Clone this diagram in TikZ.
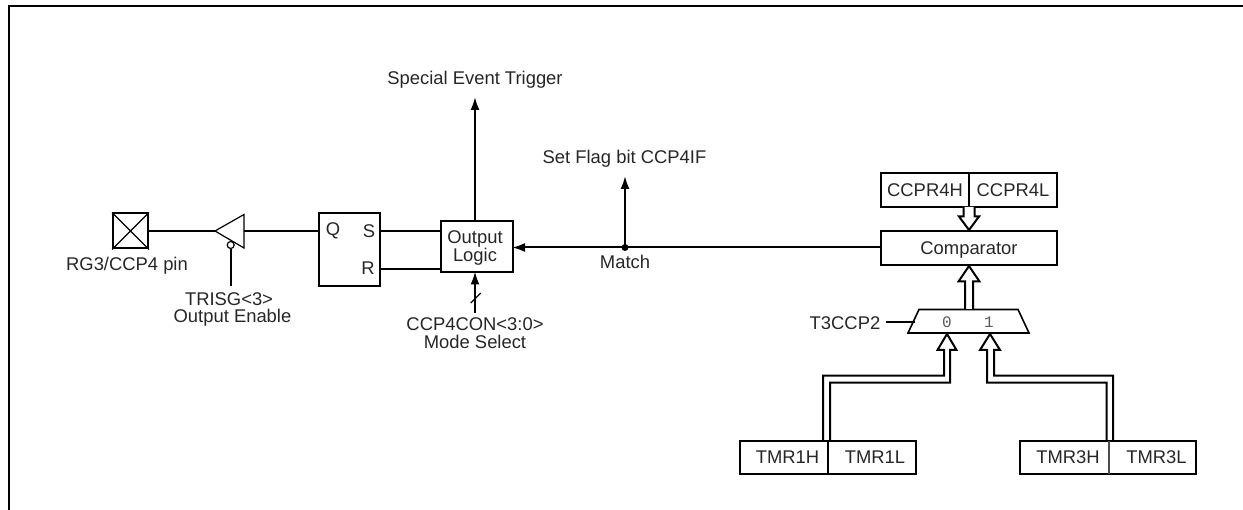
\documentclass[tikz,border=0pt]{standalone}
\usepackage{fontspec}
\setmainfont{Liberation Sans}
\setmonofont{Liberation Mono}
\usetikzlibrary{arrows.meta}
\tikzset{
  lbl/.style={inner sep=0pt,font=\fontsize{18.4}{18.4}\selectfont,align=center,text=black!85},
  muxl/.style={inner sep=0pt,font=\ttfamily\fontsize{16}{18}\selectfont,text=black!65},
  boxs/.style={draw,line width=2pt,inner sep=0pt},
  sig/.style={line width=2pt},
  sigar/.style={line width=2pt,shorten >=-2pt,-{Latex[length=13pt,width=9pt]}},
  hollow/.style={draw,line width=2pt,fill=white,line join=miter},
  hair/.style={line width=1.2pt},
}
\begin{document}
\begin{tikzpicture}[x=1pt,y=-1pt]
\useasboundingbox (0,0) rectangle (1243,510);
% frame
\draw[line width=2pt] (9,510) -- (9,6) -- (1243,6);
% pin
\node[boxs,minimum width=35pt,minimum height=35pt] (pin) at (130.5,231) {};
\draw[hair] (pin.north west) -- (pin.south east) (pin.north east) -- (pin.south west);
\node[lbl] (pinl) at (127,266) {RG3/CCP4 pin};
% buffer
\coordinate (buftip) at (215,231);
\coordinate (bufin) at (244,231);
\draw[hair,fill=white] (buftip) -- (244,214.5) -- (244,248) -- cycle;
\node[circle,draw,hair,fill=white,inner sep=0pt,minimum size=7pt] (bub) at (230.7,245) {};
\node[lbl] (tris) at (229,299) {TRISG<3>};
\node[lbl] (tris2) at (232.5,318) {Output Enable};
\coordinate (trisc) at (230.7,286);
\draw[sig] (bub) -- (trisc);
\draw[sig] (pin) -- (buftip);
% SR
\node[boxs,minimum width=61pt,minimum height=73pt] (sr) at (349.5,249.5) {};
\node[lbl] (q) at (333,231) {Q};
\node[lbl] (s) at (369,231) {S};
\node[lbl] (r) at (368,268) {R};
\draw[sig] (bufin) -- (sr.west |- bufin);
% Output logic
\node[boxs,minimum width=72pt,minimum height=51pt] (ol) at (477,247) {};
\node[lbl] (oltx) at (475,248) {Output\\Logic};
\draw[sig] (sr.east |- 0,231) -- (ol.west |- 0,231);
\draw[sig] (sr.east |- 0,269) -- (ol.west |- 0,269);
% Special event
\node[lbl] (set) at (475,80) {Special Event Trigger};
\coordinate (setc) at (475,99);
\draw[sigar] (ol.north -| setc) -- (setc);
% mode
\node[lbl] (mode) at (475,333) {CCP4CON<3:0>\\Mode Select};
\coordinate (modec) at (475,313);
\draw[sigar] (modec) -- (ol.south -| modec);
\draw[hair] (470.7,303) -- (480.7,293);
% Comparator
\node[boxs,minimum width=176pt,minimum height=34pt] (cmp) at (969,248) {};
\node[lbl] (cmpl) at (969,250) {Comparator};
\node[boxs,minimum width=176pt,minimum height=34pt] (ccp) at (969,190) {};
\node[lbl] (ccph) at (925,190) {CCPR4H};
\node[lbl] (ccpl) at (1013,190) {CCPR4L};
\draw[sig] (ccp.north) -- (ccp.south);
% match
\coordinate (mt) at (625,247.5);
\draw[sig] (cmp.west |- mt) -- (mt);
\draw[sigar] (mt) -- (ol.east |- mt);
\fill (mt) circle (3.5pt);
\node[lbl] (match) at (625,262) {Match};
\node[lbl] (flag) at (624.5,159) {Set Flag bit CCP4IF};
\coordinate (flagc) at (625,178);
\draw[sigar] (mt) -- (flagc);
% hollow ccpr->comp
\path[hollow] (963.5,207) -- (963.5,216.5) -- (959,216.5) -- (969,230) -- (979,216.5) -- (974.5,216.5) -- (974.5,207);
% mux
\node[lbl] (t3) at (845,323) {T3CCP2};
\draw[line width=1.6pt,fill=white] (919,309.5) -- (1018,309.5) -- (1029,333) -- (908,333) -- cycle;
\coordinate (muxsel) at (915,322);
\draw[sig] (886,322) -- (muxsel);
\node[muxl] (m0) at (947,322) {0};
\node[muxl] (m1) at (989,322) {1};
% mux -> comparator
\path[hollow] (965,309) -- (965,281.5) -- (958.5,281.5) -- (969,266) -- (979.5,281.5) -- (973,281.5) -- (973,309);
% timers
\node[boxs,minimum width=176pt,minimum height=33pt] (t1) at (828,457.5) {};
\draw[sig] (828,441) -- (828,474);
\node[lbl] (t1h) at (787.5,457) {TMR1H};
\node[lbl] (t1l) at (875,457) {TMR1L};
\node[boxs,minimum width=176pt,minimum height=33pt] (t3b) at (1108,457.5) {};
\draw[hair,black!70] (1109,441) -- (1109,474);
\node[lbl] (t3h) at (1068,457) {TMR3H};
\node[lbl] (t3l) at (1156.5,457) {TMR3L};
% buses
\path[hollow] (823,440) -- (823,375.7) -- (944,375.7) -- (944,350) -- (937.5,350) -- (947,334) -- (956.5,350) -- (950,350) -- (950,382.7) -- (830,382.7) -- (830,440);
\path[hollow] (1113,440) -- (1113,375.7) -- (994,375.7) -- (994,350) -- (1000,350) -- (990,334) -- (980,350) -- (987,350) -- (987,382.7) -- (1106.5,382.7) -- (1106.5,440);
\end{tikzpicture}
\end{document}
